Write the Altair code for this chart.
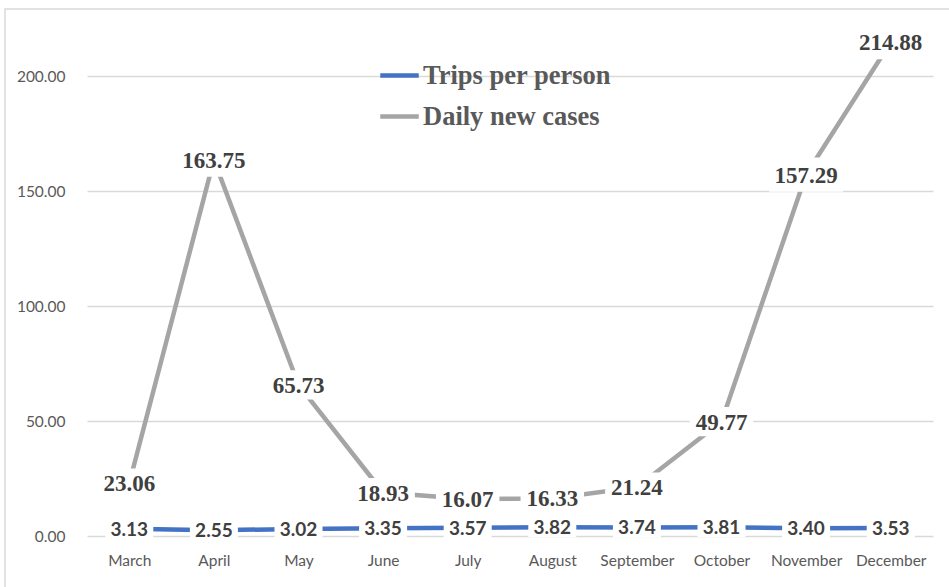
import altair as alt
import pandas as pd

# Monthly values
months = ["March", "April", "May", "June", "July", "August",
          "September", "October", "November", "December"]
trips_per_person = [3.13, 2.55, 3.02, 3.35, 3.57, 3.82, 3.74, 3.81, 3.40, 3.53]
daily_new_cases = [23.06, 163.75, 65.73, 18.93, 16.07, 16.33, 21.24, 49.77, 157.29, 214.88]
series_names = ["Trips per person", "Daily new cases"]
series_colors = ["#4472C4", "#A5A5A5"]
y_ticks = [0, 50, 100, 150, 200]

df = pd.DataFrame({
    "month": months * 2,
    "series": [series_names[0]] * len(months) + [series_names[1]] * len(months),
    "value": trips_per_person + daily_new_cases,
})
df["label"] = df["value"].map(lambda v: f"{v:.2f}")

W, H = 846, 517
SANS = "Lato, 'Open Sans', sans-serif"
SERIF = "'Liberation Serif', 'Times New Roman', serif"

x_enc = alt.X(
    "month:N", sort=months,
    scale=alt.Scale(type="point", padding=0.5),
    axis=alt.Axis(title=None, domain=False, ticks=False, labelAngle=0,
                  labelFont=SANS, labelFontSize=15.5,
                  labelColor="#595959", labelPadding=17, grid=False),
)
y_enc = alt.Y(
    "value:Q",
    scale=alt.Scale(domain=[0, 225], nice=False, zero=True),
    axis=alt.Axis(title=None, values=y_ticks, format=".2f", domain=False,
                  ticks=False, labelFont=SANS,
                  labelFontSize=15.5, labelColor="#595959", labelPadding=22,
                  grid=True, gridColor="#D9D9D9", gridWidth=1.3),
)

base = alt.Chart(df)

# Outer chart frame
frame = alt.Chart(pd.DataFrame({"k": [0]})).mark_rect(
    fill=None, stroke="#D9D9D9", strokeWidth=1.5
).encode(
    x=alt.value(-82), x2=alt.value(W + 40),
    y=alt.value(-10), y2=alt.value(H + 80),
)

lines = base.mark_line(strokeWidth=4.5).encode(
    x=x_enc, y=y_enc,
    color=alt.Color(
        "series:N", sort=series_names,
        scale=alt.Scale(domain=series_names, range=series_colors),
        legend=alt.Legend(
            title=None, orient="none", legendX=291, legendY=35,
            symbolType="stroke", symbolStrokeWidth=4.5, symbolSize=1480,
            labelFont=SERIF, labelFontSize=26.5, labelLimit=400,
            labelFontWeight="bold", labelColor="#595959",
            labelOffset=2, rowPadding=6, padding=0,
        ),
    ),
)

cases_box = "M-1,-0.46L1,-0.46L1,0.46L-1,0.46Z"
trips_box = "M-1,-0.42L1,-0.42L1,0.42L-1,0.42Z"

cases_df = base.transform_filter(alt.datum.series == series_names[1])
trips_df = base.transform_filter(alt.datum.series == series_names[0])

cases_boxes = cases_df.transform_calculate(
    box="pow(length(datum.label) * 10.7 + 10, 2)"
).mark_point(shape=cases_box, filled=True, fill="white", opacity=1,
             strokeWidth=0).encode(
    x=x_enc, y=y_enc, size=alt.Size("box:Q", scale=None, legend=None)
)
trips_boxes = trips_df.transform_calculate(
    box="pow(length(datum.label) * 9.5 + 10, 2)"
).mark_point(shape=trips_box, filled=True, fill="white", opacity=1,
             strokeWidth=0).encode(
    x=x_enc, y=y_enc, size=alt.Size("box:Q", scale=None, legend=None)
)

cases_text = cases_df.mark_text(
    font=SERIF, fontSize=23, fontWeight="bold",
    color="#404040", baseline="middle", dy=1
).encode(x=x_enc, y=y_enc, text="label:N")

trips_text = trips_df.mark_text(
    font=SANS, fontSize=19, fontWeight="bold",
    color="#404040", baseline="middle", dy=1
).encode(x=x_enc, y=y_enc, text="label:N")

chart = alt.layer(
    frame, lines, cases_boxes, trips_boxes, cases_text, trips_text
).properties(
    width=W, height=H,
    autosize=alt.AutoSizeParams(type="none"),
    padding={"left": 87, "top": 19, "right": 16, "bottom": 51},
    background="white",
).configure_view(stroke=None)

chart.save("out.html", embed_options={"renderer": "svg", "actions": False})
